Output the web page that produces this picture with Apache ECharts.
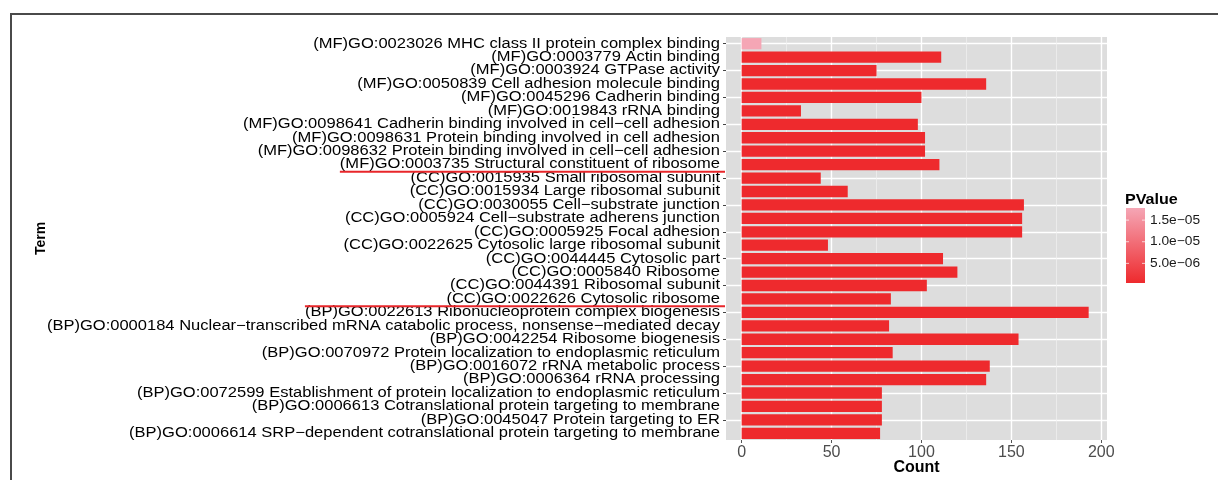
<!DOCTYPE html>
<html>
<head>
<meta charset="utf-8">
<style>
  html, body { margin: 0; padding: 0; background: #ffffff; }
  #chart { width: 1218px; height: 480px; }
</style>
<script src="https://cdn.jsdelivr.net/npm/echarts@6/dist/echarts.min.js"></script>
</head>
<body>
<div id="chart"></div>
<script>
// GO enrichment terms, listed top to bottom
const terms = [
  '(MF)GO:0023026 MHC class II protein complex binding',
  '(MF)GO:0003779 Actin binding',
  '(MF)GO:0003924 GTPase activity',
  '(MF)GO:0050839 Cell adhesion molecule binding',
  '(MF)GO:0045296 Cadherin binding',
  '(MF)GO:0019843 rRNA binding',
  '(MF)GO:0098641 Cadherin binding involved in cell-cell adhesion',
  '(MF)GO:0098631 Protein binding involved in cell adhesion',
  '(MF)GO:0098632 Protein binding involved in cell-cell adhesion',
  '(MF)GO:0003735 Structural constituent of ribosome',
  '(CC)GO:0015935 Small ribosomal subunit',
  '(CC)GO:0015934 Large ribosomal subunit',
  '(CC)GO:0030055 Cell-substrate junction',
  '(CC)GO:0005924 Cell-substrate adherens junction',
  '(CC)GO:0005925 Focal adhesion',
  '(CC)GO:0022625 Cytosolic large ribosomal subunit',
  '(CC)GO:0044445 Cytosolic part',
  '(CC)GO:0005840 Ribosome',
  '(CC)GO:0044391 Ribosomal subunit',
  '(CC)GO:0022626 Cytosolic ribosome',
  '(BP)GO:0022613 Ribonucleoprotein complex biogenesis',
  '(BP)GO:0000184 Nuclear-transcribed mRNA catabolic process, nonsense-mediated decay',
  '(BP)GO:0042254 Ribosome biogenesis',
  '(BP)GO:0070972 Protein localization to endoplasmic reticulum',
  '(BP)GO:0016072 rRNA metabolic process',
  '(BP)GO:0006364 rRNA processing',
  '(BP)GO:0072599 Establishment of protein localization to endoplasmic reticulum',
  '(BP)GO:0006613 Cotranslational protein targeting to membrane',
  '(BP)GO:0045047 Protein targeting to ER',
  '(BP)GO:0006614 SRP-dependent cotranslational protein targeting to membrane'
];

// gene counts per term
const counts = [
  11, 111, 75, 136, 100, 33, 98, 102, 102, 110,
  44, 59, 157, 156, 156, 48, 112, 120, 103, 83,
  193, 82, 154, 84, 138, 136, 78, 78, 78, 77
];

// enrichment p-values per term
const pValues = [
  1.78e-5, 4.6e-7, 4.6e-7, 4.6e-7, 4.6e-7, 4.6e-7, 4.6e-7, 4.6e-7, 4.6e-7, 4.6e-7,
  4.6e-7, 4.6e-7, 4.6e-7, 4.6e-7, 4.6e-7, 4.6e-7, 4.6e-7, 4.6e-7, 4.6e-7, 4.6e-7,
  4.6e-7, 4.6e-7, 4.6e-7, 4.6e-7, 4.6e-7, 4.6e-7, 4.6e-7, 4.6e-7, 4.6e-7, 4.6e-7
];

const countTicks = [0, 50, 100, 150, 200];
const countMinorTicks = [25, 75, 125, 175];
const pLegendTicks = [1.5e-5, 1.0e-5, 5.0e-6];
const pLegendLabels = ['1.5e\u221205', '1.0e\u221205', '5.0e\u221206'];

// rows after which a red separator is drawn under the label
const separatorAfter = [9, 19];

const FONT = "'Liberation Sans', Arial, Helvetica, sans-serif";
const LOW_COLOR = '#EE2A2D';
const HIGH_COLOR = '#F5A6B5';
const LABEL_SIZE = 14;
const LABEL_STRETCH = 1.18;   // term labels are set wide
const LABEL_MARGIN = 6;
const X_MIN = -8.7;
const X_MAX = 203.2;

const pMin = Math.min.apply(null, pValues);
const pMax = Math.max.apply(null, pValues);

const source = terms.map((t, i) => [t, counts[i], pValues[i]]);
const showText = s => s.replace(/-/g, '\u2212');

const GRID = { left: 726, right: 111, top: 37, bottom: 40 };

const chart = echarts.init(document.getElementById('chart'), null, { renderer: 'canvas' });

chart.setOption({
  backgroundColor: '#ffffff',
  animation: false,
  textStyle: { fontFamily: FONT },
  dataset: { dimensions: ['Term', 'Count', 'PValue'], source: source },
  grid: {
    left: GRID.left, right: GRID.right, top: GRID.top, bottom: GRID.bottom,
    containLabel: false, outerBoundsMode: 'none',
    show: true, backgroundColor: '#DDDDDD', borderWidth: 0
  },
  visualMap: {
    show: false,
    type: 'continuous',
    dimension: 2,
    seriesIndex: 0,
    min: pMin,
    max: pMax,
    inRange: { color: [LOW_COLOR, HIGH_COLOR] }
  },
  xAxis: [
    {
      type: 'value',
      min: X_MIN,
      max: X_MAX,
      axisLine: { show: false },
      axisTick: { show: true, customValues: countTicks, length: 3, lineStyle: { color: '#555', width: 1 } },
      axisLabel: { customValues: countTicks, color: '#4D4D4D', fontSize: 16, margin: 5, fontFamily: FONT },
      splitLine: { show: true, lineStyle: { color: '#FFFFFF', width: 1.4 } },
      name: 'Count',
      nameLocation: 'middle',
      nameGap: 20,
      nameMoveOverlap: false,
      nameTextStyle: { fontSize: 16, fontWeight: 'bold', color: '#000', fontFamily: FONT }
    },
    {
      type: 'value',
      min: X_MIN,
      max: X_MAX,
      axisLine: { show: false },
      axisTick: { show: false, customValues: countMinorTicks },
      axisLabel: { show: false },
      splitLine: { show: true, lineStyle: { color: '#F0F0F0', width: 0.7 } }
    }
  ],
  yAxis: {
    type: 'category',
    inverse: true,
    axisLine: { show: false, onZero: false },
    axisTick: { show: true, alignWithLabel: true, length: 3, lineStyle: { color: '#444', width: 1 } },
    axisLabel: { show: false },
    splitLine: { show: true, alignWithLabel: true, lineStyle: { color: '#FFFFFF', width: 1.3 } },
    name: 'Term',
    nameLocation: 'middle',
    nameRotate: 90,
    nameGap: 678,
    nameMoveOverlap: false,
    nameTextStyle: { fontSize: 14, fontWeight: 'bold', color: '#000', fontFamily: FONT }
  },
  series: [{
    type: 'bar',
    encode: { x: 'Count', y: 'Term' },
    barWidth: '84%',
    xAxisIndex: 0,
    z: 3
  }]
});

// overlay: frame, term labels, p-value colour bar, separators under labels
function drawOverlay() {
  const elements = [];

  // frame lines along the top and left edge
  elements.push({
    type: 'polyline', silent: true,
    shape: { points: [[11, 480], [11, 14], [1218, 14]] },
    style: { stroke: '#4A4A4A', lineWidth: 2, fill: null }
  });

  // term labels at each category position, set wide
  const labelRight = GRID.left - LABEL_MARGIN;
  terms.forEach(t => {
    const y = chart.convertToPixel({ yAxisIndex: 0 }, t);
    elements.push({
      type: 'text', silent: true,
      x: labelRight, y: y, scaleX: LABEL_STRETCH, scaleY: 1,
      style: {
        x: 0, y: 0, text: showText(t), fill: '#000',
        font: LABEL_SIZE + 'px ' + FONT, align: 'right', verticalAlign: 'middle'
      }
    });
  });

  // colour bar legend
  const barX = 1126, barW = 19, barTop = 208, barBottom = 283;
  const pToY = p => barBottom - (p - pMin) / (pMax - pMin) * (barBottom - barTop);
  elements.push({
    type: 'text', silent: true,
    x: barX - 1, y: 200, scaleX: 1.15,
    style: { x: 0, y: 0, text: 'PValue', fill: '#000', font: 'bold 14px ' + FONT, verticalAlign: 'middle' }
  });
  elements.push({
    type: 'rect', silent: true,
    shape: { x: barX, y: barTop, width: barW, height: barBottom - barTop },
    style: {
      fill: new echarts.graphic.LinearGradient(0, 0, 0, 1, [
        { offset: 0, color: HIGH_COLOR },
        { offset: 1, color: LOW_COLOR }
      ])
    }
  });
  pLegendTicks.forEach((p, i) => {
    const y = pToY(p);
    elements.push({
      type: 'line', silent: true,
      shape: { x1: barX, y1: y, x2: barX + 3, y2: y },
      style: { stroke: 'rgba(255,255,255,0.7)', lineWidth: 1 }
    });
    elements.push({
      type: 'line', silent: true,
      shape: { x1: barX + barW - 3, y1: y, x2: barX + barW, y2: y },
      style: { stroke: 'rgba(255,255,255,0.7)', lineWidth: 1 }
    });
    elements.push({
      type: 'text', silent: true,
      x: barX + barW + 5, y: y, scaleX: 1.1,
      style: { x: 0, y: 0, text: pLegendLabels[i], fill: '#1A1A1A', font: '12.5px ' + FONT, verticalAlign: 'middle' }
    });
  });

  // red separators between the MF / CC / BP groups
  const ctx = document.createElement('canvas').getContext('2d');
  ctx.font = LABEL_SIZE + 'px ' + FONT;
  separatorAfter.forEach(idx => {
    const yA = chart.convertToPixel({ yAxisIndex: 0 }, terms[idx]);
    const yB = chart.convertToPixel({ yAxisIndex: 0 }, terms[idx + 1]);
    const y = (yA + yB) / 2 + 0.5;
    const wA = ctx.measureText(showText(terms[idx])).width;
    const wB = ctx.measureText(showText(terms[idx + 1])).width;
    const left = labelRight - Math.max(wA, wB) * LABEL_STRETCH;
    elements.push({
      type: 'line', silent: true, z: 10,
      shape: { x1: left, y1: y, x2: GRID.left - 1, y2: y },
      style: { stroke: '#E8262A', lineWidth: 2 }
    });
  });

  chart.setOption({ graphic: { elements: elements } });
}

drawOverlay();
</script>
</body>
</html>
